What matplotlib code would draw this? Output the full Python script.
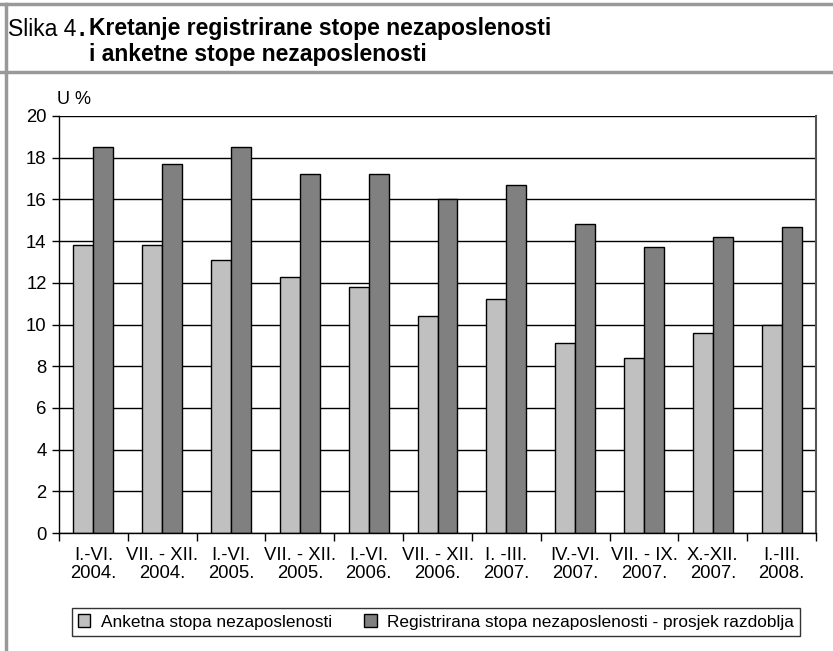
import matplotlib
matplotlib.use('Agg')
import matplotlib.pyplot as plt
import numpy as np
from matplotlib.lines import Line2D

periods = ['I.-VI.\n2004.', 'VII. - XII.\n2004.', 'I.-VI.\n2005.', 'VII. - XII.\n2005.',
           'I.-VI.\n2006.', 'VII. - XII.\n2006.', 'I. -III.\n2007.', 'IV.-VI.\n2007.',
           'VII. - IX.\n2007.', 'X.-XII.\n2007.', 'I.-III.\n2008.']
anketna = [13.8, 13.8, 13.1, 12.3, 11.8, 10.4, 11.2, 9.1, 8.4, 9.6, 10.0]
registrirana = [18.5, 17.7, 18.5, 17.2, 17.2, 16.0, 16.7, 14.8, 13.7, 14.2, 14.7]
yticks = [0, 2, 4, 6, 8, 10, 12, 14, 16, 18, 20]

plt.rcParams['font.family'] = ['Liberation Sans', 'DejaVu Sans']
title_font = ['Liberation Sans Narrow', 'Liberation Sans', 'DejaVu Sans']

fig = plt.figure(figsize=(8.33, 6.51), dpi=100)
ax = fig.add_axes([59/833, 1-533/651, (816-59)/833, (533-116)/651])

x = np.arange(len(periods))
w = 0.29
ax.bar(x - w/2, anketna, w, color='#C0C0C0', edgecolor='black', linewidth=1,
       label='Anketna stopa nezaposlenosti', zorder=3)
ax.bar(x + w/2, registrirana, w, color='#808080', edgecolor='black', linewidth=1,
       label='Registrirana stopa nezaposlenosti - prosjek razdoblja', zorder=3)

ax.set_xlim(-0.5, len(periods) - 0.5)
ax.set_ylim(0, 20)
ax.set_yticks(yticks)
ax.set_xticks(x)
ax.set_xticklabels(periods, fontsize=13.3, linespacing=1.1)
ax.set_xticks(np.arange(len(periods) + 1) - 0.5, minor=True)
ax.tick_params(axis='x', which='major', length=0, pad=10)
ax.tick_params(axis='x', which='minor', length=6, width=1, direction='out')
ax.tick_params(axis='y', labelsize=13.3, length=5, width=1, direction='out', pad=4)
ax.yaxis.grid(True, color='black', linewidth=1, zorder=0)
ax.set_axisbelow(True)
for s in ['left', 'bottom']:
    ax.spines[s].set_linewidth(1)
    ax.spines[s].set_zorder(4)
ax.spines['top'].set_visible(False)
ax.spines['right'].set_color('#555555')
ax.spines['right'].set_linewidth(1.5)

ax.text(-0.002, 1.02, 'U %', transform=ax.transAxes, fontsize=13, ha='left', va='bottom')

# frame lines
fig.add_artist(Line2D([0, 1], [1-4/651, 1-4/651], transform=fig.transFigure, color='#999999', lw=2.5))
fig.add_artist(Line2D([0, 1], [1-72/651, 1-72/651], transform=fig.transFigure, color='#999999', lw=2.5))
fig.add_artist(Line2D([5.5/833, 5.5/833], [0, 1-4/651], transform=fig.transFigure, color='#999999', lw=2.5))

# title
fig.text(8/833, 1-29/651, 'Slika 4', family=title_font, fontsize=16.5, va='center', ha='left')
fig.text(79/833, 1-29/651, '.', family=title_font, fontsize=16.5, fontweight='bold', va='center', ha='left')
fig.text(89/833, 1-29/651, 'Kretanje registrirane stope nezaposlenosti', family=title_font,
         fontsize=16.5, fontweight='bold', va='center', ha='left')
fig.text(89/833, 1-54/651, 'i anketne stope nezaposlenosti', family=title_font,
         fontsize=16.5, fontweight='bold', va='center', ha='left')

leg = fig.legend(loc='center', bbox_to_anchor=(436/833, 1-622/651), ncol=2, fontsize=12.4,
                 frameon=True, fancybox=False, edgecolor='black', handlelength=0.7,
                 handleheight=0.7, handletextpad=0.6, columnspacing=1.9, borderpad=0.35,
                 borderaxespad=0)
leg.get_frame().set_linewidth(1)

fig.savefig('out.png', dpi=100)
